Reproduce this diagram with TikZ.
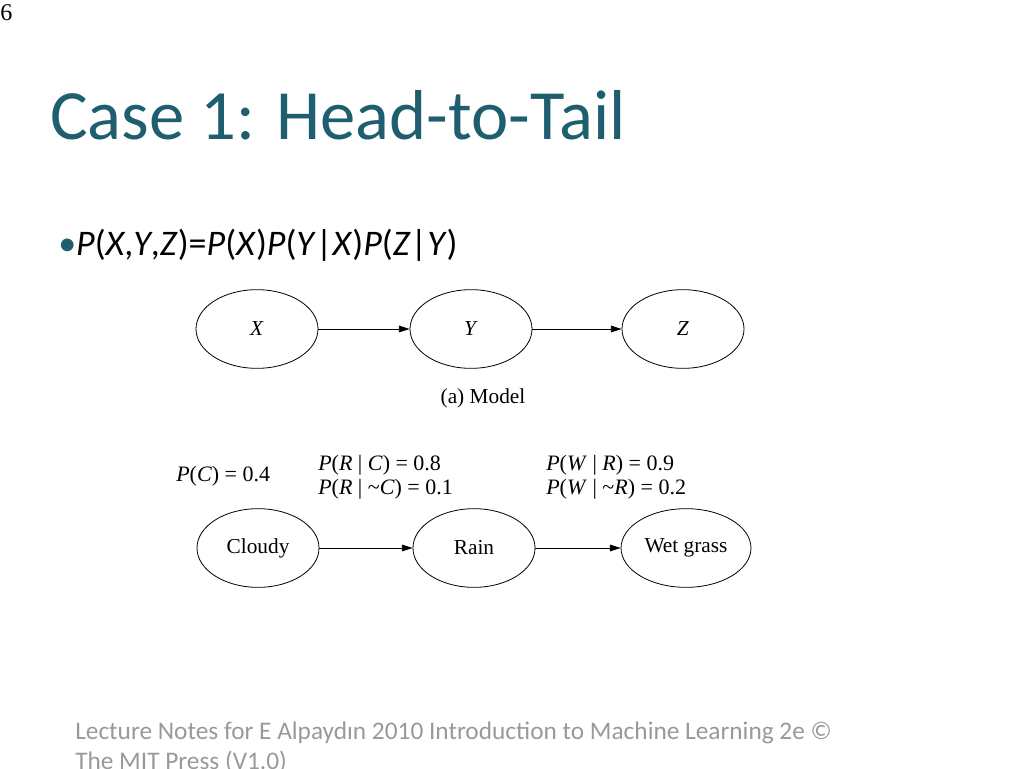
\documentclass[tikz,border=0pt]{standalone}
\usepackage{fontspec}
\setmainfont{Liberation Serif}
\newfontfamily\calfont{Carlito}
\usetikzlibrary{arrows.meta,shapes.geometric}
\definecolor{teal1}{HTML}{1F5E6E}
\begin{document}
\begin{tikzpicture}[x=0.75pt,y=-0.75pt,
  ell/.style={draw,ellipse,minimum width=91.5pt,minimum height=59pt,line width=0.6pt,font=\fontsize{16}{17}\selectfont},
  arr/.style={-{Triangle[length=8pt,width=5pt]},line width=0.6pt},
  lab/.style={anchor=west,font=\fontsize{16.5}{17}\selectfont,inner sep=0pt}]
\useasboundingbox (0,0) rectangle (1024,768);
\node[anchor=north west,font=\fontsize{18}{19}\selectfont,inner sep=0pt] (pg) at (0,4) {6};
\node[anchor=west,font=\calfont\fontsize{53}{56}\selectfont,text=teal1,inner sep=0pt] (title) at (50,115) {Case 1: Head-to-Tail};
\node[anchor=west,font=\calfont\fontsize{27}{30}\selectfont,inner sep=0pt] (eq) at (58,245) {\textcolor{teal1}{\textbullet}\textit{P}(\textit{X},\textit{Y},\textit{Z})=\textit{P}(\textit{X})\textit{P}(\textit{Y}|\textit{X})\textit{P}(\textit{Z}|\textit{Y})};
\node[ell] (x) at (257,329) {\textit{X}};
\node[ell] (y) at (471,329) {\textit{Y}};
\node[ell] (z) at (683,329) {\textit{Z}};
\draw[arr] (x) -- (y);
\draw[arr] (y) -- (z);
\node[font=\fontsize{16}{17}\selectfont] (m) at (483,398) {(a) Model};
\node[lab] (pc) at (176,476) {\textit{P}(\textit{C}) = 0.4};
\node[lab] (prc) at (318,465) {\textit{P}(\textit{R} | \textit{C}) = 0.8};
\node[lab] (prnc) at (318,489) {\textit{P}(\textit{R} | \textasciitilde\textit{C}) = 0.1};
\node[lab] (pwr) at (546,465) {\textit{P}(\textit{W} | \textit{R}) = 0.9};
\node[lab] (pwnr) at (546,489) {\textit{P}(\textit{W} | \textasciitilde\textit{R}) = 0.2};
\node[ell] (c) at (258,548) {Cloudy};
\node[ell] (r) at (474,548) {Rain};
\node[ell] (w) at (686,548) {Wet grass};
\draw[arr] (c) -- (r);
\draw[arr] (r) -- (w);
\node[anchor=north west,align=left,font=\calfont\fontsize{19}{22}\selectfont,text=gray!80,inner sep=0pt] (foot) at (75,722) {Lecture Notes for E Alpayd\i n 2010 Introduction to Machine Learning 2e ©\\The MIT Press (V1.0)};
\end{tikzpicture}
\end{document}
